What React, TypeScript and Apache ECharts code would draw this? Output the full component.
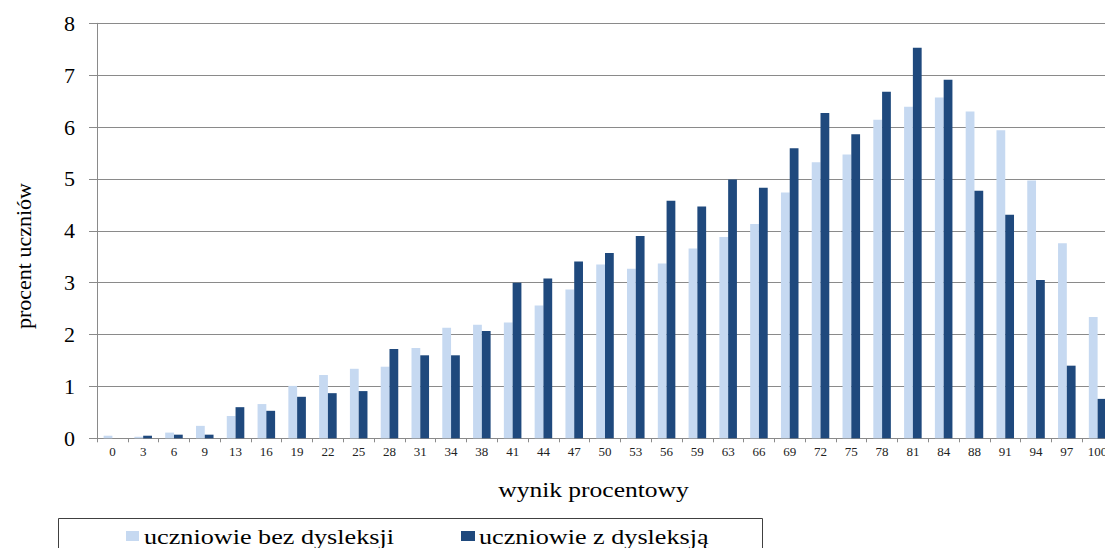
import React, { useEffect, useRef } from "react";
import * as echarts from "echarts";

const categories = [
  "0", "3", "6", "9", "13", "16", "19", "22", "25", "28",
  "31", "34", "38", "41", "44", "47", "50", "53", "56", "59",
  "63", "66", "69", "72", "75", "78", "81", "84", "88", "91",
  "94", "97", "100",
];

const withoutDyslexia = [
  0.05, 0.03, 0.11, 0.24, 0.43, 0.66, 1.01, 1.22, 1.34, 1.38,
  1.74, 2.13, 2.19, 2.23, 2.56, 2.87, 3.35, 3.27, 3.37, 3.66,
  3.88, 4.13, 4.74, 5.32, 5.47, 6.14, 6.39, 6.57, 6.3, 5.94,
  4.97, 3.76, 2.34,
];

const withDyslexia = [
  0, 0.05, 0.07, 0.07, 0.6, 0.53, 0.8, 0.87, 0.91, 1.72,
  1.6, 1.6, 2.07, 3.0, 3.08, 3.41, 3.57, 3.9, 4.58, 4.47,
  4.99, 4.83, 5.59, 6.27, 5.86, 6.68, 7.53, 6.91, 4.77, 4.31,
  3.05, 1.4, 0.76,
];

const seriesNames = ["uczniowie bez dysleksji", "uczniowie z dysleksją"];
const seriesColors = ["#C6D9F1", "#1F497D"];
const xAxisTitle = "wynik procentowy";
const yAxisTitle = "procent uczniów";

const FONT = "Liberation Serif";

export default function App() {
  const ref = useRef<HTMLDivElement>(null);

  useEffect(() => {
    if (!ref.current) return;
    const chart = echarts.init(ref.current, null, { renderer: "svg" });
    chart.setOption({
      animation: false,
      backgroundColor: "#ffffff",
      textStyle: { fontFamily: FONT },
      grid: { left: 97, top: 23.3, right: 0, bottom: 109.7, containLabel: false },
      xAxis: {
        type: "category",
        data: categories,
        axisLine: { show: true, lineStyle: { color: "#8a8a8a", width: 1 } },
        axisTick: { show: true, length: 4, lineStyle: { color: "#8a8a8a" } },
        axisLabel: {
          interval: 0,
          margin: 7,
          fontFamily: FONT,
          fontSize: 13,
          color: "#222",
        },
        splitLine: { show: false },
      },
      yAxis: {
        type: "value",
        min: 0,
        max: 8,
        interval: 1,
        axisLine: { show: true, lineStyle: { color: "#8a8a8a", width: 1 } },
        axisTick: { show: true, length: 8, lineStyle: { color: "#8a8a8a" } },
        axisLabel: {
          margin: 22,
          fontFamily: FONT,
          fontSize: 22,
          color: "#000",
        },
        splitLine: { show: true, lineStyle: { color: "#8a8a8a", width: 1 } },
      },
      series: [
        {
          name: seriesNames[0],
          type: "bar",
          data: withoutDyslexia,
          barGap: "0%",
          barCategoryGap: "43%",
          itemStyle: { color: seriesColors[0] },
        },
        {
          name: seriesNames[1],
          type: "bar",
          data: withDyslexia,
          barGap: "0%",
          barCategoryGap: "43%",
          itemStyle: { color: seriesColors[1] },
        },
      ],
      graphic: [
        {
          type: "text",
          x: 23,
          y: 256,
          rotation: Math.PI / 2,
          style: {
            text: yAxisTitle,
            fontFamily: FONT,
            fontSize: 22,
            fill: "#000",
            textAlign: "center",
            textVerticalAlign: "middle",
          },
        },
        {
          type: "text",
          x: 593.5,
          y: 490,
          scaleX: 1.16,
          style: {
            text: xAxisTitle,
            fontFamily: FONT,
            fontSize: 22,
            fill: "#000",
            textAlign: "center",
            textVerticalAlign: "middle",
          },
        },
        {
          type: "rect",
          shape: { x: 58.5, y: 518.5, width: 704, height: 40 },
          style: { fill: "none", stroke: "#404040", lineWidth: 1 },
          z: -1,
        },
        {
          type: "rect",
          shape: { x: 126, y: 531, width: 13, height: 10 },
          style: { fill: seriesColors[0] },
        },
        {
          type: "text",
          x: 144,
          y: 536,
          scaleX: 1.19,
          style: {
            text: seriesNames[0],
            fontFamily: FONT,
            fontSize: 22,
            fill: "#000",
            textAlign: "left",
            textVerticalAlign: "middle",
          },
        },
        {
          type: "rect",
          shape: { x: 461, y: 531, width: 14, height: 10 },
          style: { fill: seriesColors[1] },
        },
        {
          type: "text",
          x: 479,
          y: 536,
          scaleX: 1.19,
          style: {
            text: seriesNames[1],
            fontFamily: FONT,
            fontSize: 22,
            fill: "#000",
            textAlign: "left",
            textVerticalAlign: "middle",
          },
        },
      ],
    });
    return () => chart.dispose();
  }, []);

  return (
    <div
      style={{
        position: "absolute",
        left: 0,
        top: 0,
        width: 1105,
        height: 548,
        overflow: "hidden",
        background: "#fff",
      }}
    >
      <div ref={ref} style={{ width: 1113, height: 548 }} />
    </div>
  );
}
